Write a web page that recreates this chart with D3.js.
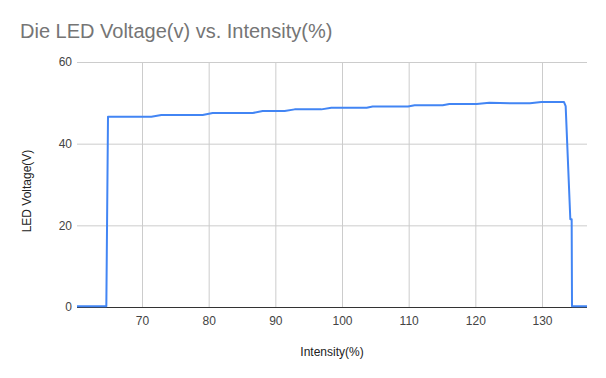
<!DOCTYPE html>
<html lang="en">
<head>
<meta charset="utf-8">
<script src="https://d3js.org/d3.v7.min.js"></script>
<style>
  body { margin: 0; background: #fff; }
  text { font-family: "Liberation Sans", Arial, sans-serif; }
</style>
</head>
<body>
<div id="chart"></div>
<script>
// intensity (%)
const intensity = [60.25, 64.65, 64.9, 71.4, 72.9, 79.1, 80.6, 86.6, 88.1, 91.4, 92.9,
  96.9, 98.4, 103.7, 104.6, 109.9, 110.9, 115.1, 116.1, 120.2, 122.1, 126.0, 128.2,
  129.9, 133.3, 133.55, 134.25, 134.45, 134.5, 136.75];
// LED voltage (V)
const voltage = [0.2, 0.2, 46.6, 46.6, 47.0, 47.0, 47.5, 47.5, 48.0, 48.0, 48.4,
  48.4, 48.8, 48.8, 49.1, 49.1, 49.4, 49.4, 49.7, 49.7, 50.0, 49.9, 49.9,
  50.2, 50.2, 49.2, 21.5, 21.5, 0.2, 0.2];
const xTicks = [70, 80, 90, 100, 110, 120, 130];
const yTicks = [0, 20, 40, 60];

const data = intensity.map((d, i) => ({x: d, y: voltage[i]}));

const W = 606, H = 378;
const margin = {top: 62, right: 19, bottom: 71, left: 77};
const width = W - margin.left - margin.right;
const height = H - margin.top - margin.bottom;

const svg = d3.select("#chart").append("svg")
  .attr("width", W).attr("height", H);

const g = svg.append("g")
  .attr("transform", "translate(" + margin.left + "," + margin.top + ")");

const x = d3.scaleLinear().domain([60.25, 136.75]).range([0, width]);
const y = d3.scaleLinear().domain([0, 60]).range([height, 0]);

// gridlines
g.append("g")
  .call(d3.axisLeft(y).tickValues(yTicks).tickSize(-width).tickFormat(""))
  .call(a => a.select(".domain").remove())
  .selectAll("line").attr("stroke", "#cccccc");
g.append("g")
  .attr("transform", "translate(0," + height + ")")
  .call(d3.axisBottom(x).tickValues(xTicks).tickSize(-height).tickFormat(""))
  .call(a => a.select(".domain").remove())
  .selectAll("line").attr("stroke", "#cccccc");

// tick labels
const yAxis = g.append("g")
  .call(d3.axisLeft(y).tickValues(yTicks).tickSize(0).tickPadding(5));
yAxis.select(".domain").remove();
yAxis.selectAll("text").attr("fill", "#444").style("font-size", "12px");

const xAxis = g.append("g")
  .attr("transform", "translate(0," + height + ")")
  .call(d3.axisBottom(x).tickValues(xTicks).tickSize(0).tickPadding(9));
xAxis.select(".domain").remove();
xAxis.selectAll("text").attr("fill", "#444").style("font-size", "12px");

// baseline
g.append("line")
  .attr("x1", 0).attr("x2", width)
  .attr("y1", y(0) + 0.5).attr("y2", y(0) + 0.5)
  .attr("stroke", "#333").attr("stroke-width", 1);

// the line
g.append("path")
  .datum(data)
  .attr("fill", "none")
  .attr("stroke", "#4285f4")
  .attr("stroke-width", 2)
  .attr("stroke-linejoin", "round")
  .attr("d", d3.line().x(d => x(d.x)).y(d => y(d.y)));

// titles
svg.append("text")
  .attr("x", 20).attr("y", 38)
  .attr("fill", "#757575")
  .style("font-size", "20px")
  .text("Die LED Voltage(v) vs. Intensity(%)");

svg.append("text")
  .attr("x", margin.left + width / 2).attr("y", 356)
  .attr("text-anchor", "middle")
  .attr("fill", "#222")
  .style("font-size", "12px")
  .text("Intensity(%)");

svg.append("text")
  .attr("transform", "translate(31,191) rotate(-90)")
  .attr("text-anchor", "middle")
  .attr("fill", "#222")
  .style("font-size", "12px")
  .text("LED Voltage(V)");
</script>
</body>
</html>
